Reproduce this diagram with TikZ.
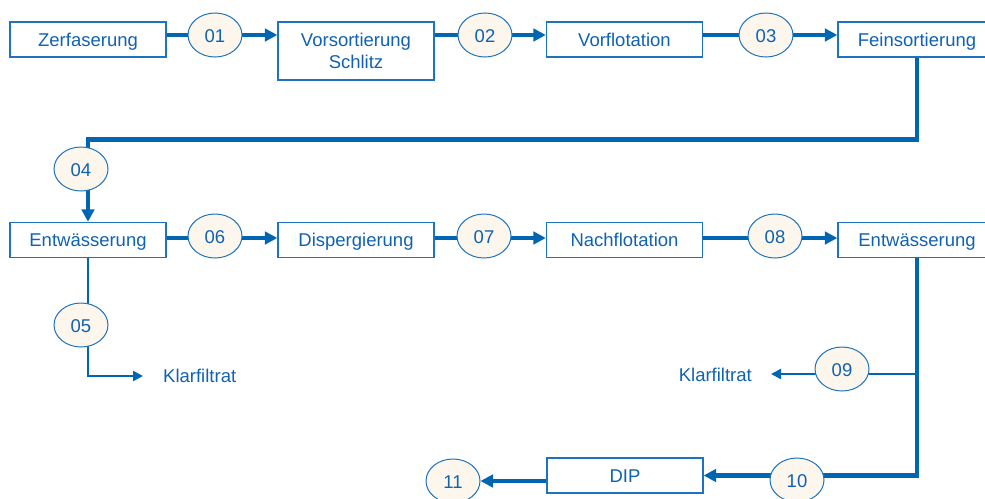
\documentclass[tikz,border=0pt]{standalone}
\usepackage{fontspec}
\setmainfont{Liberation Sans}
\usetikzlibrary{arrows.meta,shapes.geometric}
\definecolor{flowblue}{RGB}{0,102,178}
\definecolor{edgeblue}{RGB}{30,115,190}
\definecolor{txtblue}{RGB}{16,98,178}
\definecolor{cream}{RGB}{253,246,236}
\pgfdeclarelayer{bg}
\pgfsetlayers{bg,main}
\tikzset{
  stage/.style={draw=edgeblue, line width=1.3pt, fill=white, text=txtblue,
    minimum width=156pt, minimum height=35pt, inner sep=0pt, align=center,
    text height=13.2pt, text depth=0pt,
    font=\fontsize{18.5}{21.5}\selectfont},
  tag/.style={ellipse, draw=edgeblue, line width=1pt, fill=cream, text=txtblue,
    minimum width=54pt, minimum height=44pt, inner sep=0pt,
    text height=14pt, text depth=0pt,
    font=\fontsize{18.5}{22}\selectfont},
  outlabel/.style={text=txtblue, inner sep=0pt, font=\fontsize{18.5}{22}\selectfont},
  mainflow/.style={draw=flowblue, line width=4.5pt, -{Triangle[length=12.5pt,width=12.5pt]}},
  sideflow/.style={draw=flowblue, line width=2.2pt, -{Triangle[length=10pt,width=10pt]}},
}
\begin{document}
\begin{tikzpicture}[x=1pt, y=-1pt]
\useasboundingbox (0,0) rectangle (985,498);
\begin{scope}
\clip (0,0) rectangle (985,498);
% process stages
\node[stage] (zer) at (88,39.5) {Zerfaserung};
\node[stage, minimum height=58pt, text height=34.7pt] (vor) at (356,51) {Vorsortierung\\Schlitz};
\node[stage] (vfl) at (624.5,39.5) {Vorflotation};
\node[stage, minimum width=158pt] (fein) at (917,39.5) {Feinsortierung};
\node[stage] (ent1) at (88,240) {Entwässerung};
\node[stage] (disp) at (356,240) {Dispergierung};
\node[stage] (nfl) at (624.5,240) {Nachflotation};
\node[stage, minimum width=158pt] (ent2) at (917,240) {Entwässerung};
\node[stage] (dip) at (625,475.5) {DIP};
% stream tags
\node[tag] (t01) at (215,35) {01};
\node[tag] (t02) at (485,35) {02};
\node[tag] (t03) at (766,35) {03};
\node[tag] (t04) at (81,169) {04};
\node[tag] (t05) at (81,325) {05};
\node[tag] (t06) at (215,236) {06};
\node[tag] (t07) at (484,236) {07};
\node[tag] (t08) at (775,236) {08};
\node[tag] (t09) at (842,369) {09};
\node[tag] (t10) at (797,480) {10};
\node[tag] (t11) at (453,481) {11};
% outlets
\node[outlabel, anchor=west] (kf1) at (163,376) {Klarfiltrat};
\node[outlabel, anchor=east] (kf2) at (752,375) {Klarfiltrat};
\coordinate (turn) at (88,139.5);
\coordinate (split) at (917,374);
% connectors
\begin{pgfonlayer}{bg}
\draw[mainflow] (zer.east |- t01) -- (vor.west |- t01);
\draw[mainflow] (vor.east |- t02) -- (vfl.west |- t02);
\draw[mainflow] (vfl.east |- t03) -- (fein.west |- t03);
\draw[mainflow] (fein.south) |- (turn) -- (ent1.north);
\draw[mainflow] (ent1.east |- 0,238) -- (disp.west |- 0,238);
\draw[mainflow] (disp.east |- 0,238) -- (nfl.west |- 0,238);
\draw[mainflow] (nfl.east |- 0,238) -- (ent2.west |- 0,238);
\draw[sideflow, shorten >=20pt] (ent1.south) |- (kf1.west);
\draw[mainflow] (ent2.south) |- (dip.east);
\draw[sideflow, shorten >=19pt] (split) -- (kf2.east |- split);
\draw[mainflow] (dip.west |- t11) -- (t11.east);
\end{pgfonlayer}
\end{scope}
\end{tikzpicture}
\end{document}
